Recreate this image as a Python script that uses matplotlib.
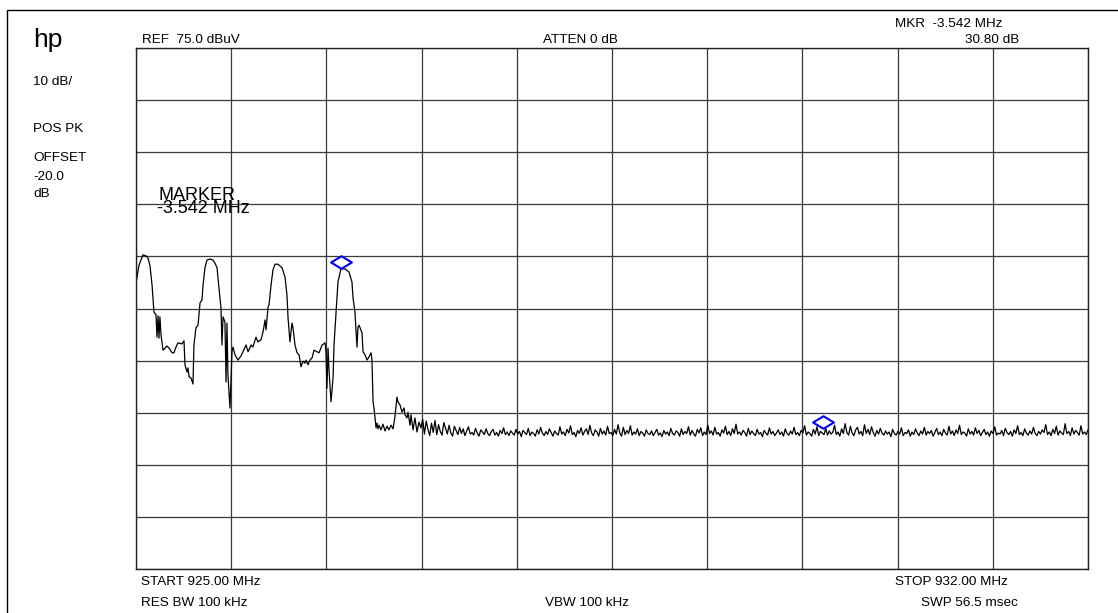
import numpy as np
import matplotlib.pyplot as plt
from matplotlib.path import Path
from matplotlib.patches import Rectangle

# analyzer settings
ref_level = 75.0      # dBuV, top of screen
db_per_div = 10
start_mhz = 925.0
stop_mhz = 932.0

# trace: carrier region (MHz, dBuV)
sig_mhz = [925.000, 925.022, 925.051, 925.074, 925.088, 925.103, 925.118, 925.132, 925.147, 925.154,
           925.162, 925.169, 925.176, 925.184, 925.199, 925.213, 925.228, 925.243, 925.265, 925.279,
           925.294, 925.309, 925.338, 925.353, 925.360, 925.375, 925.382, 925.390, 925.404, 925.419,
           925.426, 925.441, 925.456, 925.471, 925.485, 925.493, 925.507, 925.522, 925.544, 925.566,
           925.581, 925.596, 925.610, 925.625, 925.632, 925.640, 925.654, 925.662, 925.669, 925.676,
           925.691, 925.706, 925.713, 925.728, 925.750, 925.772, 925.787, 925.809, 925.824, 925.846,
           925.860, 925.882, 925.897, 925.919, 925.934, 925.949, 925.956, 925.971, 925.978, 925.993,
           926.007, 926.022, 926.044, 926.074, 926.096, 926.110, 926.118, 926.132, 926.147, 926.154,
           926.169, 926.184, 926.199, 926.213, 926.228, 926.243, 926.250, 926.265, 926.279, 926.294,
           926.309, 926.331, 926.346, 926.368, 926.390, 926.397, 926.404, 926.412, 926.419, 926.434,
           926.449, 926.456, 926.471, 926.485, 926.507, 926.537, 926.566, 926.588, 926.596, 926.610,
           926.625, 926.632, 926.640, 926.662, 926.669, 926.684, 926.699, 926.713, 926.728, 926.735,
           926.743, 926.750, 926.765, 926.772, 926.779, 926.787, 926.801, 926.816, 926.831, 926.846,
           926.860, 926.875, 926.890, 926.904, 926.919, 926.926, 926.941, 926.956, 926.971, 926.978,
           926.993, 927.000, 927.015, 927.022, 927.037, 927.051, 927.066, 927.081]
sig_dbuv = [29.9, 33.3, 35.3, 35.1, 34.7, 33.2, 29.5, 24.3, 23.8, 19.5,
            23.6, 19.3, 23.4, 19.9, 17.0, 17.4, 17.8, 17.4, 16.5, 16.5,
            17.6, 18.4, 18.2, 18.8, 14.2, 12.8, 13.6, 11.9, 11.7, 10.5,
            18.0, 21.3, 21.8, 26.1, 26.6, 29.5, 32.8, 34.3, 34.5, 34.3,
            33.7, 32.8, 28.9, 25.1, 18.0, 23.4, 22.4, 10.9, 22.2, 12.2,
            5.9, 16.7, 17.6, 16.1, 15.1, 15.9, 16.7, 18.0, 16.7, 18.0,
            17.6, 19.5, 18.6, 19.0, 20.5, 22.8, 20.9, 25.3, 25.7, 29.5,
            32.4, 33.5, 33.5, 32.8, 31.0, 27.6, 23.2, 18.6, 22.2, 21.4,
            18.0, 16.5, 16.1, 13.8, 14.9, 14.5, 15.1, 14.2, 15.1, 15.5,
            17.0, 16.7, 16.5, 18.0, 18.4, 16.7, 9.7, 17.4, 13.2, 7.1,
            11.7, 18.0, 24.3, 30.1, 32.6, 32.6, 32.0, 30.1, 27.0, 24.3,
            17.6, 21.4, 21.8, 20.3, 16.7, 16.1, 15.1, 15.7, 16.5, 15.1,
            7.1, 5.9, 2.1, 3.0, 1.9, 2.6, 1.7, 2.8, 1.5, 2.4,
            1.7, 2.6, 1.9, 4.2, 8.0, 7.1, 6.5, 5.1, 5.9, 4.6,
            4.0, 5.1, 2.6, 4.6, 1.7, 4.0, 1.3, 3.2]

# trace: noise floor from 927.09 MHz to stop, equally spaced sweep points
noise_dbuv = [2.1, 3.7, 0.9, 3.4, 1.8, 0.6, 3.0, 1.2, 3.5, 0.8,
              2.7, 1.4, 0.7, 3.1, 2.0, 0.9, 2.6, 1.1, 0.5, 2.4,
              1.6, 0.8, 2.2, 1.0, 1.9, 0.6, 1.5, 2.3, 0.9, 1.2,
              0.7, 2.0, 1.1, 0.5, 1.7, 1.3, 0.8, 1.9, 1.0, 0.6,
              1.4, 1.8, 0.7, 1.2, 0.5, 1.6, 1.0, 2.1, 0.8, 1.3,
              0.6, 1.5, 1.1, 0.7, 1.8, 0.9, 1.4, 0.4, 1.6, 1.2,
              0.8, 2.0, 0.6, 1.3, 1.0, 0.5, 1.7, 0.9, 2.2, 1.1,
              0.6, 1.4, 0.8, 1.9, 1.2, 0.5, 1.5, 1.0, 0.7, 2.3,
              0.9, 1.3, 0.6, 1.8, 1.1, 2.5, 0.8, 1.2, 0.4, 1.6,
              1.0, 2.1, 0.7, 1.4, 1.9, 0.8, 2.6, 1.1, 0.6, 1.7,
              1.3, 0.5, 2.0, 0.9, 1.5, 0.7, 2.4, 1.0, 1.2, 0.6,
              1.8, 0.9, 2.7, 1.1, 0.5, 2.2, 0.8, 1.6, 1.0, 2.5,
              0.7, 1.3, 0.9, 1.9, 0.6, 1.4, 1.1, 0.5, 1.7, 1.0,
              0.8, 1.5, 0.6, 1.2, 1.8, 0.7, 1.1, 0.4, 1.6, 0.9,
              1.3, 0.6, 2.0, 1.0, 0.7, 1.5, 1.2, 0.5, 1.9, 0.8,
              1.4, 1.0, 2.3, 0.7, 1.6, 0.9, 0.5, 1.8, 1.1, 2.1,
              0.6, 1.3, 0.8, 2.6, 1.0, 1.5, 0.7, 2.2, 0.9, 1.2,
              0.5, 1.7, 1.1, 2.4, 0.8, 1.4, 0.6, 1.9, 1.0, 2.8,
              0.9, 1.3, 0.7, 1.6, 1.2, 0.5, 2.0, 0.8, 1.5, 1.0,
              0.6, 1.8, 0.9, 1.2, 0.4, 1.6, 1.1, 0.7, 2.1, 0.9,
              1.4, 0.6, 1.1, 1.7, 0.8, 1.3, 0.5, 1.9, 1.0, 0.7,
              1.5, 0.9, 2.2, 0.8, 1.2, 0.6, 1.6, 1.1, 2.5, 0.7,
              1.3, 1.0, 0.5, 1.8, 0.9, 2.3, 0.6, 1.4, 1.1, 0.8,
              2.0, 0.7, 1.5, 0.9, 1.2, 2.6, 0.8, 1.3, 0.5, 1.9,
              1.0, 2.9, 1.2, 0.7, 2.4, 1.1, 0.6, 1.7, 2.2, 0.9,
              1.4, 0.6, 2.7, 1.0, 1.8, 0.8, 2.3, 1.2, 0.5, 1.6,
              0.9, 2.0, 1.1, 0.7, 1.5, 0.9, 1.3, 0.4, 1.8, 1.0,
              0.7, 1.4, 0.9, 2.1, 0.6, 1.2, 1.0, 1.7, 0.5, 1.3,
              0.8, 1.9, 1.1, 0.6, 1.5, 0.9, 2.2, 0.7, 1.4, 1.0,
              1.6, 0.5, 1.2, 2.0, 0.8, 1.3, 0.6, 1.8, 1.1, 0.7,
              2.4, 0.9, 1.5, 0.6, 1.7, 1.0, 2.6, 0.8, 1.3, 1.1,
              0.5, 1.9, 0.9, 1.4, 0.7, 2.1, 1.0, 1.6, 0.6, 1.2,
              1.8, 0.8, 1.3, 0.5, 1.5, 1.0, 2.3, 0.7, 1.1, 0.9,
              1.6, 0.6, 2.0, 1.2, 0.8, 1.4, 0.5, 1.7, 1.0, 2.5,
              0.8, 1.2, 0.6, 1.9, 1.1, 0.7, 1.5, 0.9, 2.2, 1.0,
              0.6, 1.4, 0.9, 1.7, 1.2, 2.7, 0.8, 1.3, 0.6, 1.8,
              1.0, 2.4, 0.7, 1.5, 1.1, 0.8, 2.9, 1.0, 1.4, 0.6,
              2.1, 0.9, 1.6, 1.2, 0.7, 2.5, 0.9, 1.3, 0.8, 1.7]
noise_mhz = np.linspace(927.095, stop_mhz, len(noise_dbuv))

# markers (diamond centres)
mkr_mhz = [926.507, 930.049]
mkr_dbuv = [33.9, 3.2]

W, H = 1118, 613


def fp(x, y):
    # pixel -> figure fraction
    return x / W, 1 - y / H


fig = plt.figure(figsize=(W / 100, H / 100), dpi=100)
plt.rcParams['font.family'] = ['Liberation Sans', 'DejaVu Sans']

# outer frame
fig.patches.append(Rectangle(fp(7, 700), (1200 - 7) / W, (700 - 10) / H,
                             transform=fig.transFigure, fill=False,
                             edgecolor='black', lw=1.0))

ax = fig.add_axes([136 / W, 1 - 569 / H, (1088 - 136) / W, (569 - 48) / H])
ax.set_xlim(start_mhz, stop_mhz)
ax.set_ylim(ref_level - 10 * db_per_div, ref_level)
ax.set_xticks(np.linspace(start_mhz, stop_mhz, 11))
ax.set_yticks(np.arange(ref_level - 10 * db_per_div, ref_level + 1, db_per_div))
ax.grid(True, color='#3a3a3a', lw=0.9)
ax.tick_params(length=0, labelbottom=False, labelleft=False)
for s in ax.spines.values():
    s.set_color('#222222')
    s.set_linewidth(1.0)

ax.plot(list(sig_mhz) + list(noise_mhz), sig_dbuv + noise_dbuv,
        color='black', lw=0.9)

diamond = Path([(-1, 0), (0, 0.6), (1, 0), (0, -0.6), (-1, 0)],
               [Path.MOVETO, Path.LINETO, Path.LINETO, Path.LINETO, Path.CLOSEPOLY])
ax.plot(mkr_mhz, mkr_dbuv, ls='none', marker=diamond, ms=15,
        mfc='none', mec='#0000ee', mew=1.5)

small = 9.7
fig.text(*fp(33, 47), 'hp', fontsize=19, va='baseline')
fig.text(*fp(33, 85), '10 dB/', fontsize=small, va='baseline')
fig.text(*fp(33, 132), 'POS PK', fontsize=small, va='baseline')
fig.text(*fp(33, 161), 'OFFSET', fontsize=small, va='baseline')
fig.text(*fp(33, 180), '-20.0', fontsize=small, va='baseline')
fig.text(*fp(33, 197), 'dB', fontsize=small, va='baseline')

fig.text(*fp(142, 43), 'REF  75.0 dBuV', fontsize=small, va='baseline')
fig.text(*fp(543, 43), 'ATTEN 0 dB', fontsize=small, va='baseline')
fig.text(*fp(895, 27), 'MKR  -3.542 MHz', fontsize=small, va='baseline')
fig.text(*fp(1019, 43), '30.80 dB', fontsize=small, va='baseline', ha='right')

fig.text(*fp(159, 200), 'MARKER', fontsize=13, va='baseline')
fig.text(*fp(157, 213), '-3.542 MHz', fontsize=13, va='baseline')

fig.text(*fp(141, 585), 'START 925.00 MHz', fontsize=small, va='baseline')
fig.text(*fp(141, 606), 'RES BW 100 kHz', fontsize=small, va='baseline')
fig.text(*fp(545, 606), 'VBW 100 kHz', fontsize=small, va='baseline')
fig.text(*fp(895, 585), 'STOP 932.00 MHz', fontsize=small, va='baseline')
fig.text(*fp(921, 606), 'SWP 56.5 msec', fontsize=small, va='baseline')

fig.savefig('out.png', dpi=100)
